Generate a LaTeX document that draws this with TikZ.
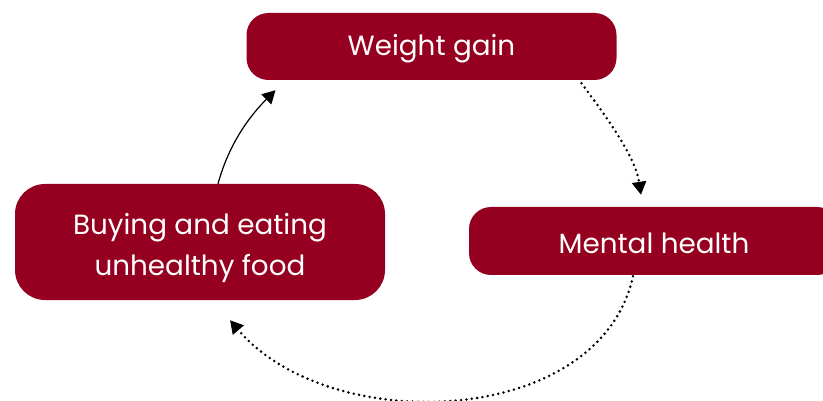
\documentclass[tikz,border=0pt]{standalone}
\usepackage{fontspec}
\setmainfont{Poppins}
\usetikzlibrary{arrows.meta,calc}
\definecolor{boxred}{HTML}{960020}
\begin{document}
\begin{tikzpicture}[x=1pt,y=-1pt,
  box/.style={fill=boxred,draw=none,rounded corners=#1,minimum width=370pt,inner sep=0pt},
  label/.style={text=white,font=\fontsize{27.8}{41}\selectfont,align=center},
  tip/.style={-{Triangle[length=13pt,width=14pt]}},
  dotline/.style={tip,line width=2.8pt,dash pattern=on 0pt off 5.4pt,line cap=round},
  solidline/.style={tip,line width=1.2pt}]
\useasboundingbox (0,0) rectangle (823,401);

\node[box=22pt,minimum height=67pt] (wg) at (431.5,46.5) {};
\node[box=22pt,minimum height=68pt] (mh) at (654,241) {};
\node[box=30pt,minimum height=116pt] (bf) at (200,242) {};
\node[label] (wgt) at ($(wg.center)+(0,2)$) {Weight gain};
\node[label] (mht) at ($(mh.center)+(0,2)$) {Mental health};
\node[label] (bft) at ($(bf.center)+(0,6)$) {Buying and eating\\unhealthy food};

% weight gain -> mental health
\draw[dotline] ($(wg.south)+(150,3)$) .. controls +(22,30) and +(-6,-40) .. ($(mh.north)+(-13,-12)$);
% mental health -> buying and eating
\draw[dotline] ($(mh.south)+(-21,1)$) .. controls (600,428) and (330,438) .. ($(bf.south)+(30,20)$);
% buying and eating -> weight gain
\draw[solidline] ($(bf.north)+(18,0)$) .. controls +(12,-44) and +(-22,22) .. ($(wg.south)+(-156,10)$);
\end{tikzpicture}
\end{document}
